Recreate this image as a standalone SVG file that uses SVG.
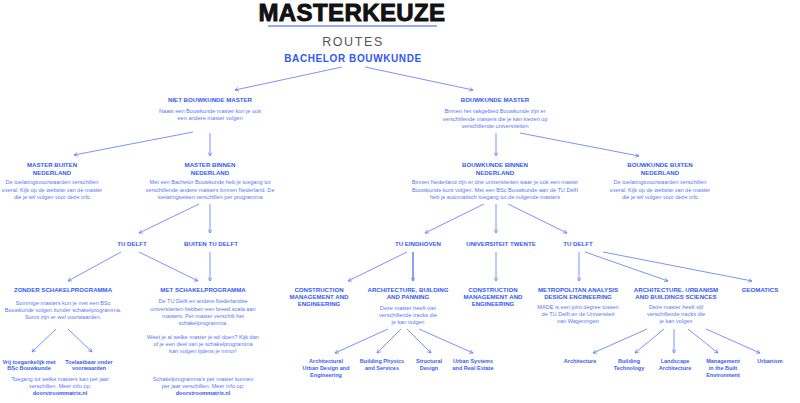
<svg xmlns="http://www.w3.org/2000/svg" width="800" height="403" viewBox="0 0 800 403">
<defs>
<style>
text{font-family:"Liberation Sans",Arial,sans-serif;text-anchor:middle}
.title{font-size:24px;font-weight:bold;fill:#111;stroke:#111;stroke-width:0.9;letter-spacing:0.4px}
.sub{font-size:12.5px;fill:#555;letter-spacing:1.6px}
.bach{font-size:10px;font-weight:bold;fill:#3358f5;letter-spacing:0.6px}
.h{font-size:6.1px;font-weight:bold;fill:#3358f5}
.d{font-size:5.6px;fill:#5a78f3}
.t{font-size:5.5px;font-weight:bold;fill:#3a5cf3}
.b{font-weight:bold;fill:#3358f5}
.c line{stroke:#5a78f3;stroke-width:0.8;marker-end:url(#ah)}
</style>
<marker id="ah" viewBox="0 0 6 6" refX="5.2" refY="3" markerWidth="4.5" markerHeight="4.5" markerUnits="userSpaceOnUse" orient="auto">
<path d="M0.5,0.5 L5.2,3 L0.5,5.5" fill="none" stroke="#5a78f3" stroke-width="0.9"/>
</marker>
</defs>
<rect width="800" height="403" fill="#fff"/>

<g id="header">
<text class="title" x="352" y="21">MASTERKEUZE</text>
<line x1="268" y1="26" x2="437" y2="26" stroke="#2d55f0" stroke-width="1.2"/>
<text class="sub" x="353" y="46">ROUTES</text>
</g>
<g id="bachelor"><text class="bach" x="353" y="62">BACHELOR BOUWKUNDE</text></g>

<g class="c" id="connectors">
<line x1="342" y1="67" x2="235" y2="90"/>
<line x1="365" y1="67" x2="473" y2="90"/>
<line x1="193" y1="132" x2="74" y2="155"/>
<line x1="210" y1="133" x2="210" y2="156"/>
<line x1="496" y1="133" x2="496" y2="156"/>
<line x1="520" y1="133" x2="639" y2="156"/>
<line x1="199" y1="204" x2="139" y2="233"/>
<line x1="210" y1="204" x2="210" y2="233"/>
<line x1="484" y1="204" x2="425" y2="233"/>
<line x1="496" y1="204" x2="496" y2="233"/>
<line x1="508" y1="204" x2="567" y2="233"/>
<line x1="121" y1="252" x2="68" y2="281"/>
<line x1="139" y1="252" x2="198" y2="281"/>
<line x1="210" y1="252" x2="210" y2="281"/>
<line x1="407" y1="252" x2="348" y2="281"/>
<line x1="413" y1="252" x2="413" y2="281" style="stroke-width:1.4"/>
<line x1="496" y1="252" x2="496" y2="281"/>
<line x1="579" y1="252" x2="579" y2="281"/>
<line x1="585" y1="252" x2="668" y2="281"/>
<line x1="603" y1="252" x2="752" y2="281"/>
<line x1="56" y1="329" x2="32" y2="352"/>
<line x1="68" y1="329" x2="92" y2="352"/>
<line x1="388" y1="329" x2="335" y2="353"/>
<line x1="401" y1="329" x2="377" y2="353"/>
<line x1="407" y1="329" x2="431" y2="353"/>
<line x1="419" y1="329" x2="473" y2="353"/>
<line x1="647" y1="329" x2="593" y2="353"/>
<line x1="664" y1="329" x2="635" y2="353"/>
<line x1="674" y1="329" x2="674" y2="353"/>
<line x1="688" y1="329" x2="718" y2="353"/>
<line x1="706" y1="329" x2="760" y2="353"/>
</g>

<g id="niet-bouwkunde-master">
<text class="h" x="210" y="102">NIET BOUWKUNDE MASTER</text>
<text class="d" x="210" y="112.5">Naast een Bouwkunde master kun je ook</text>
<text class="d" x="210" y="120">een andere master volgen</text>
</g>
<g id="bouwkunde-master">
<text class="h" x="495" y="102">BOUWKUNDE MASTER</text>
<text class="d" x="495" y="113">Binnen het vakgebied Bouwkunde zijn er</text>
<text class="d" x="495" y="120.5">verschillende masters die je kan kiezen op</text>
<text class="d" x="495" y="128">verschillende universiteiten</text>
</g>

<g id="master-buiten-nederland">
<text class="h" x="52" y="167">MASTER BUITEN</text>
<text class="h" x="52" y="174.5">NEDERLAND</text>
<text class="d" x="52" y="184">De toelatingsvoorwaarden verschillen</text>
<text class="d" x="52" y="191.5">overal. Kijk op de website van de master</text>
<text class="d" x="52" y="199">die je wil volgen voor deze info</text>
</g>
<g id="master-binnen-nederland">
<text class="h" x="210" y="167">MASTER BINNEN</text>
<text class="h" x="210" y="174.5">NEDERLAND</text>
<text class="d" x="210" y="184">Met een Bachelor Bouwkunde heb je toegang tot</text>
<text class="d" x="210" y="191.5">verschillende andere masters binnen Nederland. De</text>
<text class="d" x="210" y="199">toelatingseisen verschillen per programma</text>
</g>
<g id="bouwkunde-binnen-nederland">
<text class="h" x="495" y="167">BOUWKUNDE BINNEN</text>
<text class="h" x="495" y="174.5">NEDERLAND</text>
<text class="d" x="495" y="184">Binnen Nederland zijn er drie universiteiten waar je ook een master</text>
<text class="d" x="495" y="191.5">Bouwkunde kunt volgen. Met een BSc Bouwkunde aan de TU Delft</text>
<text class="d" x="495" y="199">heb je automatisch toegang tot de volgende masters</text>
</g>
<g id="bouwkunde-buiten-nederland">
<text class="h" x="660" y="167">BOUWKUNDE BUITEN</text>
<text class="h" x="660" y="174.5">NEDERLAND</text>
<text class="d" x="660" y="184">De toelatingsvoorwaarden verschillen</text>
<text class="d" x="660" y="191.5">overal. Kijk op de website van de master</text>
<text class="d" x="660" y="199">die je wil volgen voor deze info</text>
</g>

<g id="tu-delft-left"><text class="h" x="132" y="245.5">TU DELFT</text></g>
<g id="buiten-tu-delft"><text class="h" x="211" y="245.5">BUITEN TU DELFT</text></g>
<g id="tu-eindhoven"><text class="h" x="418" y="245.5">TU EINDHOVEN</text></g>
<g id="universiteit-twente"><text class="h" x="501" y="245.5">UNIVERSITEIT TWENTE</text></g>
<g id="tu-delft-right"><text class="h" x="578" y="245.5">TU DELFT</text></g>

<g id="zonder-schakelprogramma">
<text class="h" x="63" y="292">ZONDER SCHAKELPROGRAMMA</text>
<text class="d" x="63" y="304.5">Sommige masters kun je met een BSc</text>
<text class="d" x="63" y="311.5">Bouwkunde volgen zonder schakelprogramma.</text>
<text class="d" x="63" y="318.5">Soms zijn er wel voorwaarden.</text>
</g>
<g id="met-schakelprogramma">
<text class="h" x="203" y="292">MET SCHAKELPROGRAMMA</text>
<text class="d" x="203" y="303">De TU Delft  en andere Nederlandse</text>
<text class="d" x="203" y="310.5">universiteiten hebben een breed scala aan</text>
<text class="d" x="203" y="318">masters. Per master verschilt het</text>
<text class="d" x="203" y="325">schakelprogramma.</text>
<text class="d" x="203" y="338.5">Weet je al welke master je wil doen? Kijk dan</text>
<text class="d" x="203" y="346">of je een deel van je schakelprogramma</text>
<text class="d" x="203" y="353">kan volgen tijdens je minor!</text>
<text class="d" x="203" y="381">Schakelprogramma's per master kunnen</text>
<text class="d" x="203" y="388">per jaar verschillen. Meer info op:</text>
<text class="d b" x="203" y="395">doorstroommatrix.nl</text>
</g>
<g id="vrij-toegankelijk">
<text class="t" x="29" y="363.5">Vrij toegankelijk met</text>
<text class="t" x="29" y="370">BSc Bouwkunde</text>
</g>
<g id="toelaatbaar">
<text class="t" x="89" y="363.5">Toelaatbaar onder</text>
<text class="t" x="89" y="370">voorwaarden</text>
</g>
<g id="toegang-note">
<text class="d" x="60" y="381">Toegang tot welke masters kan per jaar</text>
<text class="d" x="60" y="388">verschillen. Meer info op:</text>
<text class="d b" x="60" y="395">doorstroommatrix.nl</text>
</g>

<g id="cme-eindhoven">
<text class="h" x="319" y="292">CONSTRUCTION</text>
<text class="h" x="319" y="299">MANAGEMENT AND</text>
<text class="h" x="319" y="306">ENGINEERING</text>
</g>
<g id="abp-eindhoven">
<text class="h" x="408" y="292">ARCHITECTURE, BUILDING</text>
<text class="h" x="408" y="299">AND PANNING</text>
<text class="d" x="408" y="309.5">Deze master heeft vier</text>
<text class="d" x="408" y="316.5">verschillende tracks die</text>
<text class="d" x="408" y="323.5">je kan volgen</text>
</g>
<g id="cme-twente">
<text class="h" x="493" y="292">CONSTRUCTION</text>
<text class="h" x="493" y="299">MANAGEMENT AND</text>
<text class="h" x="493" y="306">ENGINEERING</text>
</g>
<g id="made">
<text class="h" x="578" y="292">METROPOLITAN ANALYSIS</text>
<text class="h" x="578" y="299">DESIGN ENGINEERING</text>
<text class="d" x="578" y="309">MADE is een joint degree tussen</text>
<text class="d" x="578" y="316">de TU Delft en de Universiteit</text>
<text class="d" x="578" y="323">van Wageningen</text>
</g>
<g id="aubs">
<text class="h" x="676" y="292">ARCHITECTURE, URBANISM</text>
<text class="h" x="676" y="299">AND BUILDINGS SCIENCES</text>
<text class="d" x="676" y="309">Deze master heeft vijf</text>
<text class="d" x="676" y="316">verschillende tracks die</text>
<text class="d" x="676" y="323">je kan volgen</text>
</g>
<g id="geomatics"><text class="h" x="760" y="292">GEOMATICS</text></g>

<g id="track-aude"><text class="t" x="326" y="363">Architectural</text><text class="t" x="326" y="370">Urban Design and</text><text class="t" x="326" y="377">Engineering</text></g>
<g id="track-bps"><text class="t" x="382" y="363">Building Physics</text><text class="t" x="382" y="370">and Services</text></g>
<g id="track-sd"><text class="t" x="429" y="363">Structural</text><text class="t" x="429" y="370">Design</text></g>
<g id="track-usre"><text class="t" x="473" y="363">Urban Systems</text><text class="t" x="473" y="370">and Real Estate</text></g>

<g id="track-architecture"><text class="t" x="580" y="363">Architecture</text></g>
<g id="track-bt"><text class="t" x="629" y="363">Building</text><text class="t" x="629" y="370">Technology</text></g>
<g id="track-la"><text class="t" x="675" y="363">Landscape</text><text class="t" x="675" y="370">Architecture</text></g>
<g id="track-mbe"><text class="t" x="723" y="363">Management</text><text class="t" x="723" y="370">in the Built</text><text class="t" x="723" y="377">Environment</text></g>
<g id="track-urbanism"><text class="t" x="770" y="363">Urbanism</text></g>
</svg>
